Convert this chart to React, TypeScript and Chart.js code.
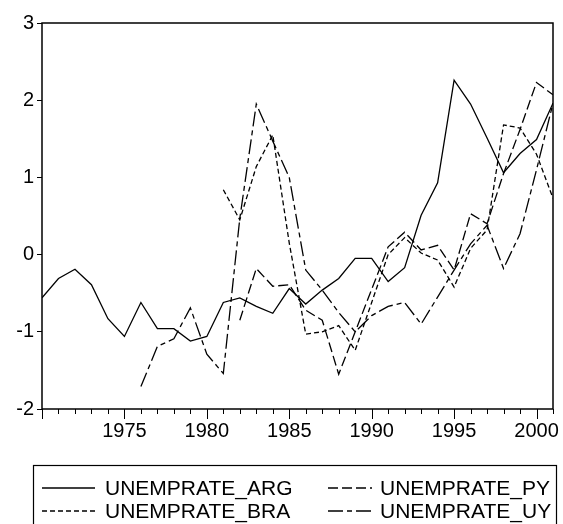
import React, { useEffect, useRef } from 'react';
import { Chart, registerables } from 'chart.js';

Chart.register(...registerables);

const years = [
  1970, 1971, 1972, 1973, 1974, 1975, 1976, 1977, 1978, 1979, 1980, 1981, 1982, 1983, 1984, 1985,
  1986, 1987, 1988, 1989, 1990, 1991, 1992, 1993, 1994, 1995, 1996, 1997, 1998, 1999, 2000, 2001,
];

const argValues = [
  -0.56, -0.31, -0.19, -0.39, -0.83, -1.06, -0.62, -0.96, -0.96, -1.12, -1.06, -0.62, -0.56, -0.67, -0.76, -0.44,
  -0.64, -0.46, -0.31, -0.05, -0.05, -0.35, -0.17, 0.51, 0.93, 2.26, 1.95, 1.51, 1.06, 1.31, 1.49, 1.96,
];

const pyValues = [
  null, null, null, null, null, null, null, null, null, null, null, null, -0.85, -0.18, -0.41, -0.39,
  -0.72, -0.85, -1.55, -1.0, -0.45, 0.1, 0.29, 0.06, 0.12, -0.2, 0.53, 0.4, 1.05, 1.62, 2.23, 2.07,
];

const braValues = [
  null, null, null, null, null, null, null, null, null, null, null, 0.84, 0.45, 1.14, 1.55, 0.15,
  -1.03, -1.0, -0.92, -1.24, -0.62, 0.0, 0.22, 0.02, -0.07, -0.42, 0.08, 0.32, 1.68, 1.64, 1.3, 0.73,
];

const uyValues = [
  null, null, null, null, null, null, -1.71, -1.19, -1.09, -0.69, -1.29, -1.54, 0.47, 1.95, 1.47, 1.0,
  -0.2, -0.46, -0.75, -1.0, -0.79, -0.67, -0.62, -0.9, -0.55, -0.2, 0.14, 0.38, -0.18, 0.27, 1.1, 1.96,
];

const seriesNames = ['UNEMPRATE_ARG', 'UNEMPRATE_PY', 'UNEMPRATE_BRA', 'UNEMPRATE_UY'];
const seriesValues = [argValues, pyValues, braValues, uyValues];
const seriesDashes: number[][] = [[], [10, 4], [5, 3], [15, 4, 5, 4]];

const yTickValues = [-2, -1, 0, 1, 2, 3];
const xTickLabels = [1975, 1980, 1985, 1990, 1995, 2000];

const FONT = '"Liberation Sans", Arial, Helvetica, sans-serif';

const framePlugin = {
  id: 'frameAndLegend',
  afterDraw(chart: any) {
    const { ctx, chartArea } = chart;
    const xs = chart.scales.x;
    ctx.save();
    // frame
    ctx.strokeStyle = '#000';
    ctx.lineWidth = 1.5;
    ctx.setLineDash([]);
    ctx.strokeRect(chartArea.left, chartArea.top, chartArea.right - chartArea.left, chartArea.bottom - chartArea.top);
    // x ticks
    ctx.lineWidth = 1;
    for (const yr of years) {
      const px = Math.round(xs.getPixelForValue(yr)) + 0.5;
      const len = yr % 5 === 0 ? 10 : 5;
      ctx.beginPath();
      ctx.moveTo(px, chartArea.bottom);
      ctx.lineTo(px, chartArea.bottom + len);
      ctx.stroke();
    }
    // legend
    const boxL = 33, boxT = 465, boxR = 556;
    ctx.lineWidth = 1.2;
    ctx.strokeRect(boxL + 0.5, boxT + 0.5, boxR - boxL, 80);
    ctx.font = '21px ' + FONT;
    ctx.fillStyle = '#000';
    ctx.textBaseline = 'middle';
    ctx.textAlign = 'left';
    const cols = [
      { lx0: 42, lx1: 95, tx: 105 },
      { lx0: 328, lx1: 372, tx: 380 },
    ];
    const rows = [488, 511];
    const order = [0, 1, 2, 3];
    order.forEach((si, k) => {
      const c = cols[k % 2];
      const ry = rows[Math.floor(k / 2)];
      ctx.beginPath();
      ctx.setLineDash(seriesDashes[si]);
      ctx.lineWidth = 1.3;
      ctx.moveTo(c.lx0, ry);
      ctx.lineTo(c.lx1, ry);
      ctx.stroke();
      ctx.setLineDash([]);
      ctx.fillText(seriesNames[si], c.tx, ry + 1);
    });
    ctx.restore();
  },
};

export default function App() {
  const canvasRef = useRef<HTMLCanvasElement | null>(null);

  useEffect(() => {
    if (!canvasRef.current) return;
    const datasets = seriesValues.map((vals, si) => ({
      label: seriesNames[si],
      data: years.map((yr, i) => ({ x: yr, y: vals[i] })),
      borderColor: '#000',
      backgroundColor: '#000',
      borderWidth: 1.3,
      borderDash: seriesDashes[si],
      pointRadius: 0,
      tension: 0,
      fill: false,
      spanGaps: false,
    }));
    const chart = new Chart(canvasRef.current, {
      type: 'line',
      data: { datasets },
      plugins: [framePlugin],
      options: {
        animation: false,
        responsive: false,
        devicePixelRatio: 1,
        layout: { padding: { top: 23, right: 7, left: 0, bottom: 0 } },
        plugins: { legend: { display: false }, tooltip: { enabled: false } },
        scales: {
          x: {
            type: 'linear',
            min: 1970,
            max: 2001,
            afterFit: (s: any) => { s.height = 115; },
            afterBuildTicks: (s: any) => { s.ticks = years.map((v) => ({ value: v })); },
            ticks: {
              autoSkip: false,
              maxRotation: 0,
              minRotation: 0,
              padding: 10,
              color: '#000',
              font: { family: FONT, size: 20 },
              callback: (v: any) => (xTickLabels.includes(Number(v)) ? String(v) : ''),
            },
            grid: { display: false, drawTicks: false },
            border: { display: false },
          },
          y: {
            type: 'linear',
            min: -2,
            max: 3,
            afterFit: (s: any) => { s.width = 42; },
            afterBuildTicks: (s: any) => { s.ticks = yTickValues.map((v) => ({ value: v })); },
            ticks: {
              padding: 3,
              color: '#000',
              font: { family: FONT, size: 20 },
              callback: (v: any) => String(v),
            },
            grid: { drawOnChartArea: false, drawTicks: true, tickLength: 5, color: '#000', lineWidth: 1 },
            border: { display: false },
          },
        },
      },
    });
    return () => chart.destroy();
  }, []);

  return (
    <div style={{ position: 'absolute', left: 0, top: 0, width: 563, height: 524, background: '#fff' }}>
      <canvas ref={canvasRef} width={563} height={524} style={{ display: 'block' }} />
    </div>
  );
}
